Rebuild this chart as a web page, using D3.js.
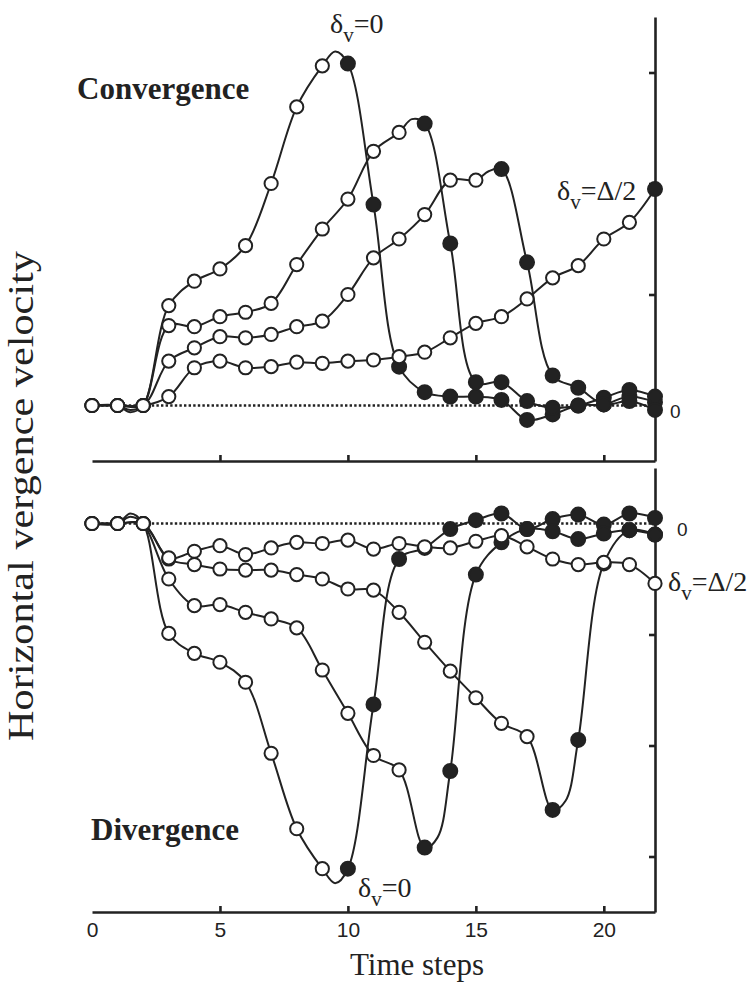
<!DOCTYPE html>
<html>
<head>
<meta charset="utf-8">
<script src="https://cdn.jsdelivr.net/npm/d3@7"></script>
<style>
	body { margin: 0; background: #fff; }
	.axis path, .axis line { stroke: #222; stroke-width: 2.6; }
	.axis text { font-family: 'Liberation Sans Narrow', 'Liberation Sans', Arial, sans-serif; font-size: 21px; fill: #222; }
	.trace { fill: none; stroke: #222; stroke-width: 2; }
	.zero { stroke: #222; stroke-width: 2.4; stroke-dasharray: 2.4 2.2; }
	.dot { stroke: #222; stroke-width: 2; }
	.serif { font-family: 'Liberation Serif', 'Times New Roman', serif; fill: #222; }
</style>
</head>
<body>
<div id="canvas"></div>
<script>
/* global d3 */

// Time steps (x categories)
var timeSteps = [0, 1, 2, 3, 4, 5, 6, 7, 8, 9, 10, 11, 12, 13, 14, 15, 16, 17, 18, 19, 20, 21, 22];
var xTickValues = [0, 5, 10, 15, 20];

// Convergence (top panel), one value per time step
var convA = [0, 0, 0, 0.90, 1.12, 1.23, 1.44, 2.00, 2.69, 3.06, 3.08, 1.81, 0.35, 0.12, 0.08, 0.08, 0.05, -0.13, -0.08, 0.00, 0.01, 0.08, 0.03];
var convB = [0, 0, 0, 0.72, 0.71, 0.80, 0.84, 0.92, 1.27, 1.59, 1.86, 2.29, 2.46, 2.54, 1.46, 0.21, 0.21, 0.04, -0.02, 0.00, 0.07, 0.14, 0.08];
var convC = [0, 0, 0, 0.40, 0.52, 0.62, 0.61, 0.64, 0.71, 0.76, 1.00, 1.33, 1.50, 1.72, 2.03, 2.03, 2.13, 1.29, 0.27, 0.16, 0.01, 0.04, -0.04];
var convD = [0, 0, 0, 0.08, 0.34, 0.40, 0.34, 0.35, 0.39, 0.38, 0.40, 0.41, 0.44, 0.48, 0.61, 0.74, 0.80, 0.96, 1.15, 1.26, 1.50, 1.65, 1.95];
// first time step drawn with a filled marker
var convFilledFrom = [10, 13, 16, 22];
// extra line vertices between steps [time, value]
var convKinks = [
	[[1.5, -0.06], [9.5, 3.19]],
	[[1.5, -0.04], [12.5, 2.58]],
	[[15.5, 2.11]],
	[]
];
var convYTicks = [1, 2, 3];

// Divergence (bottom panel)
var divA = [0, 0, 0, -0.99, -1.17, -1.25, -1.43, -2.07, -2.75, -3.11, -3.11, -1.63, -0.32, -0.22, -0.05, 0.03, 0.09, -0.05, 0.04, 0.08, -0.01, 0.09, 0.05];
var divB = [0, 0, 0, -0.50, -0.74, -0.73, -0.80, -0.86, -0.94, -1.32, -1.71, -2.09, -2.22, -2.92, -2.23, -0.46, -0.17, -0.05, -0.07, -0.14, -0.09, -0.06, -0.10];
var divC = [0, 0, 0, -0.32, -0.37, -0.41, -0.42, -0.42, -0.46, -0.50, -0.59, -0.60, -0.80, -1.07, -1.33, -1.57, -1.80, -1.92, -2.58, -1.95, -0.36, -0.06, -0.10];
var divD = [0, 0, 0, -0.31, -0.25, -0.20, -0.28, -0.22, -0.17, -0.18, -0.15, -0.23, -0.18, -0.21, -0.22, -0.16, -0.11, -0.21, -0.32, -0.37, -0.35, -0.37, -0.54];
var divFilledFrom = [10, 13, 18, 23];
var divKinks = [
	[[1.5, 0.09], [9.5, -3.24]],
	[[1.5, 0.06], [13.5, -2.83]],
	[[18.5, -2.50]],
	[]
];
var divYTicks = [-1, -2, -3];

document.addEventListener('DOMContentLoaded', function() {

	var width = 755,
		height = 989;

	var svg = d3.select('#canvas').append('svg')
		.attr('width', width)
		.attr('height', height);

	var xScale = d3.scaleLinear().domain([0, 22]).range([92, 655]);

	var panels = [
		{
			series: [convA, convB, convC, convD],
			filledFrom: convFilledFrom,
			kinks: convKinks,
			y: d3.scaleLinear().domain([-0.5, 3.5]).range([461, 17]),
			yTicks: convYTicks,
			tickLabels: false,
			zeroDx: 15
		},
		{
			series: [divA, divB, divC, divD],
			filledFrom: divFilledFrom,
			kinks: divKinks,
			y: d3.scaleLinear().domain([-3.5, 0.5]).range([912, 468]),
			yTicks: divYTicks,
			tickLabels: true,
			zeroDx: 22
		}
	];

	var line = d3.line()
		.x(function(d) { return xScale(d[0]); })
		.y(function(d) { return d[1]; })
		.curve(d3.curveCatmullRom.alpha(0.5));

	function drawPanel(p) {
		var g = svg.append('g');

		// x axis
		var xAxis = d3.axisBottom(xScale)
			.tickValues(p.tickLabels ? xTickValues : xTickValues.slice(1))
			.tickSize(-6)
			.tickSizeOuter(0)
			.tickPadding(10);
		if (!p.tickLabels) xAxis.tickFormat('');
		var gx = g.append('g')
			.attr('class', 'axis')
			.attr('transform', 'translate(0,' + p.y.range()[0] + ')')
			.call(xAxis);
		gx.selectAll('.tick').filter(function(d) { return d === 0; }).select('line').remove();

		// right y axis
		g.append('g')
			.attr('class', 'axis')
			.attr('transform', 'translate(' + xScale(22) + ',0)')
			.call(d3.axisRight(p.y).tickValues(p.yTicks).tickSize(-6).tickSizeOuter(0).tickFormat(''));

		// dotted zero line
		g.append('line')
			.attr('class', 'zero')
			.attr('x1', xScale(0))
			.attr('x2', xScale(22))
			.attr('y1', p.y(0))
			.attr('y2', p.y(0));

		// traces
		p.series.forEach(function(values, i) {
			var pts = timeSteps.map(function(t) { return [t, values[t]]; })
				.concat(p.kinks[i])
				.sort(function(a, b) { return a[0] - b[0]; })
				.map(function(d) { return [d[0], p.y(d[1])]; });
			g.append('path').attr('class', 'trace').attr('d', line(pts));
		});

		// markers
		p.series.forEach(function(values, i) {
			g.selectAll(null)
				.data(timeSteps)
				.enter()
				.append('circle')
				.attr('class', 'dot')
				.attr('cx', function(t) { return xScale(t); })
				.attr('cy', function(t) { return p.y(values[t]); })
				.attr('r', function(t) { return t >= p.filledFrom[i] ? 7 : 6.6; })
				.attr('fill', function(t) { return t >= p.filledFrom[i] ? '#222' : '#fff'; });
		});

		// zero label
		g.append('text')
			.attr('x', xScale(22) + p.zeroDx)
			.attr('y', p.y(0) + 12)
			.style('font-family', "'Liberation Sans Narrow', 'Liberation Sans', Arial, sans-serif")
			.style('font-size', '19px')
			.style('fill', '#222')
			.text('0');
	}

	panels.forEach(drawPanel);

	// delta labels with subscript v
	function deltaLabel(x, y, rest) {
		var t = svg.append('text')
			.attr('class', 'serif')
			.attr('x', x)
			.attr('y', y)
			.style('font-size', '28px');
		t.append('tspan').text('\u03b4');
		t.append('tspan').attr('dy', 9).style('font-size', '21px').text('v');
		t.append('tspan').attr('dy', -9).text('=' + rest);
	}

	deltaLabel(330, 33, '0');
	deltaLabel(557, 200, '\u0394/2');
	deltaLabel(358, 897, '0');
	deltaLabel(668, 591, '\u0394/2');

	// panel titles
	svg.append('text')
		.attr('class', 'serif')
		.attr('x', 77)
		.attr('y', 99)
		.style('font-size', '31px')
		.style('font-weight', 'bold')
		.text('Convergence');

	svg.append('text')
		.attr('class', 'serif')
		.attr('x', 91)
		.attr('y', 840)
		.style('font-size', '31px')
		.style('font-weight', 'bold')
		.text('Divergence');

	// axis titles
	svg.append('text')
		.attr('class', 'serif')
		.attr('x', 417)
		.attr('y', 975)
		.attr('text-anchor', 'middle')
		.style('font-size', '31px')
		.text('Time steps');

	svg.append('text')
		.attr('class', 'serif')
		.attr('transform', 'translate(33,496) rotate(-90)')
		.attr('text-anchor', 'middle')
		.attr('textLength', 490)
		.attr('lengthAdjust', 'spacingAndGlyphs')
		.style('font-size', '35px')
		.text('Horizontal vergence velocity');

});
</script>
</body>
</html>
